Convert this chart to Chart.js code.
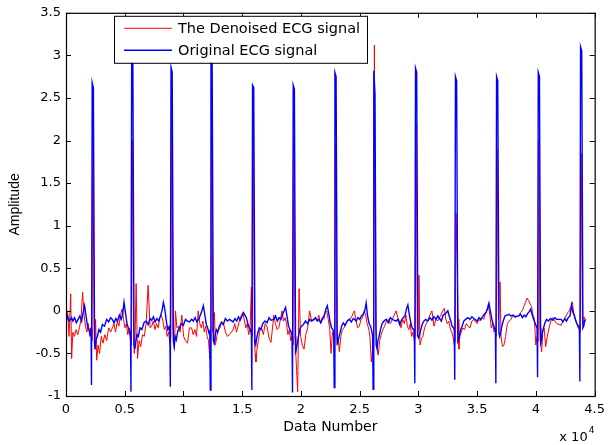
<!DOCTYPE html>
<html>
<head>
<meta charset="utf-8">
<script src="https://cdn.jsdelivr.net/npm/chart.js@4.4.0/dist/chart.umd.min.js"></script>
<style>
html, body { margin: 0; padding: 0; background: #fff; }
</style>
</head>
<body>
<canvas id="ecgChart" width="611" height="445"></canvas>
<script>
// R-peak sample numbers of the 13 beats
const PEAKS = [2280, 5640, 8990, 12390, 15930, 19390, 22940, 26250, 29800, 33200, 36700, 40250, 43850];

// samples before the first beat
const LEAD_X = [0, 130, 260, 400, 480];
const LEAD_BLUE = [-0.13, -0.06, -0.12, -0.1, -0.08];
const LEAD_RED = [-0.07, 0.0, -0.3, 0.2, -0.56];

// sample offsets (relative to each R peak) where the values below are read
const OFF_BLUE = [-1700, -1550, -1400, -1250, -1100, -950, -820, -700, -580, -450, -330, -220, -150, -110, -50, 50, 150, 220, 300, 400, 520, 660, 820, 1000, 1180, 1350, 1520];
const OFF_RED = [-1700, -1560, -1420, -1280, -1140, -1000, -870, -740, -620, -500, -380, -260, -150, -70, 0, 110, 170, 240, 330, 450, 580, 720, 870, 1020, 1180, 1350, 1520];

// Original ECG signal, one row per beat
const BLUE_BEATS = [
    [-0.12, -0.08, -0.14, -0.10, -0.06, -0.12, -0.02, 0.06, -0.05, -0.18, -0.22, -0.27, -0.2, -0.87, 2.68, 2.62, -0.38, -0.42, -0.33, -0.3, -0.22, -0.25, -0.16, -0.18, -0.1, -0.13, -0.08],
    [-0.1, -0.14, -0.09, -0.12, -0.05, -0.1, -0.04, 0.1, -0.02, -0.15, -0.2, -0.24, -0.3, -0.95, 2.95, 2.9, -0.4, -0.45, -0.36, -0.28, -0.3, -0.2, -0.22, -0.14, -0.12, -0.16, -0.09],
    [-0.11, -0.07, -0.13, -0.09, -0.12, -0.06, 0.0, 0.1, 0.02, -0.12, -0.22, -0.19, -0.28, -0.89, 2.86, 2.8, -0.35, -0.42, -0.3, -0.34, -0.24, -0.2, -0.15, -0.17, -0.1, -0.12, -0.13],
    [-0.1, -0.12, -0.08, -0.13, -0.1, -0.05, 0.0, 0.06, -0.04, -0.16, -0.2, -0.26, -0.24, -0.93, 2.95, 2.9, -0.34, -0.38, -0.3, -0.22, -0.25, -0.18, -0.14, -0.16, -0.09, -0.12, -0.1],
    [-0.13, -0.09, -0.12, -0.07, -0.11, -0.06, -0.02, -0.05, -0.08, -0.15, -0.2, -0.22, -0.28, -0.93, 2.65, 2.62, -0.37, -0.4, -0.32, -0.26, -0.2, -0.22, -0.15, -0.12, -0.14, -0.08, -0.11],
    [-0.1, -0.06, -0.12, -0.08, -0.1, -0.04, 0.0, 0.04, -0.06, -0.18, -0.22, -0.25, -0.3, -0.96, 2.65, 2.6, -0.48, -0.45, -0.38, -0.3, -0.21, -0.18, -0.16, -0.12, -0.15, -0.1, -0.12],
    [-0.08, -0.12, -0.1, -0.14, -0.09, -0.05, 0.02, 0.06, -0.03, -0.14, -0.2, -0.22, -0.26, -0.9, 2.8, 2.75, -0.38, -0.36, -0.3, -0.25, -0.18, -0.14, -0.17, -0.12, -0.1, -0.13, -0.09],
    [-0.1, -0.12, -0.08, -0.1, -0.06, -0.04, 0.0, 0.09, -0.06, -0.15, -0.18, -0.24, -0.3, -0.92, 2.82, 2.55, -0.4, -0.44, -0.35, -0.3, -0.22, -0.15, -0.12, -0.1, -0.14, -0.08, -0.1],
    [-0.12, -0.1, -0.16, -0.11, -0.08, -0.06, 0.02, 0.07, -0.04, -0.14, -0.2, -0.22, -0.25, -0.85, 2.85, 2.8, -0.3, -0.32, -0.28, -0.22, -0.16, -0.12, -0.1, -0.12, -0.08, -0.11, -0.07],
    [-0.1, -0.06, -0.09, -0.12, -0.05, -0.04, -0.02, 0.0, -0.06, -0.12, -0.18, -0.2, -0.22, -0.81, 2.75, 2.7, -0.36, -0.34, -0.28, -0.22, -0.18, -0.12, -0.1, -0.08, -0.1, -0.07, -0.09],
    [-0.12, -0.08, -0.1, -0.07, -0.04, -0.02, 0.03, 0.09, 0.0, -0.1, -0.16, -0.2, -0.24, -0.85, 2.75, 2.7, -0.26, -0.3, -0.25, -0.18, -0.12, -0.06, -0.05, -0.04, -0.06, -0.05, -0.07],
    [-0.06, -0.04, -0.08, -0.05, -0.07, -0.03, -0.01, 0.02, -0.04, -0.1, -0.14, -0.18, -0.2, -0.78, 2.8, 2.75, -0.38, -0.35, -0.25, -0.2, -0.14, -0.1, -0.12, -0.09, -0.11, -0.08, -0.1],
    [-0.1, -0.13, -0.09, -0.12, -0.08, -0.06, 0.07, -0.02, -0.05, -0.12, -0.16, -0.18, -0.2, -0.83, 3.1, 3.05, -0.2, -0.18, -0.12, -0.1]
];

// Denoised ECG signal, one row per beat
const RED_BEATS = [
    [-0.25, -0.3, -0.22, -0.28, -0.2, -0.1, 0.22, -0.05, -0.18, -0.25, -0.15, -0.3, -0.2, -0.35, 2.25, -0.1, -0.45, -0.1, -0.58, -0.4, -0.5, -0.3, -0.38, -0.28, -0.35, -0.2, -0.25],
    [-0.2, -0.15, -0.25, -0.12, -0.18, -0.05, 0.02, -0.1, -0.2, -0.15, -0.28, -0.2, -0.35, -0.4, 2.0, -0.2, -0.5, -0.3, 0.32, -0.56, -0.35, -0.42, -0.28, -0.3, -0.15, 0.3, -0.2],
    [-0.18, -0.12, -0.22, -0.15, -0.2, -0.08, -0.05, -0.12, -0.22, -0.18, -0.3, -0.25, -0.38, -0.3, 2.55, -0.2, -0.35, -0.45, 0.0, -0.2, -0.18, -0.25, -0.05, -0.3, -0.35, -0.38, -0.2],
    [-0.2, -0.28, -0.22, -0.3, 0.0, -0.15, -0.2, -0.12, -0.25, -0.18, -0.3, -0.35, -0.56, -0.4, 2.48, -0.25, -0.1, -0.02, -0.4, -0.3, -0.22, -0.2, -0.12, -0.15, -0.25, -0.3, -0.28],
    [-0.22, -0.15, -0.25, -0.18, -0.1, -0.05, -0.02, -0.12, -0.2, -0.15, -0.28, -0.2, 0.28, -0.3, 2.35, -0.35, -0.5, -0.6, -0.45, -0.35, -0.22, -0.2, -0.28, -0.15, -0.18, -0.32, -0.37],
    [-0.05, -0.15, -0.22, -0.2, -0.1, 0.0, -0.12, -0.08, -0.15, -0.28, -0.22, -0.35, -0.3, -0.4, 2.05, -0.3, -0.5, -0.7, -0.95, 0.26, -0.3, -0.4, -0.45, -0.28, -0.2, 0.0, -0.12],
    [-0.1, -0.12, -0.05, -0.15, -0.08, -0.1, -0.02, 0.0, -0.1, -0.2, -0.5, -0.25, -0.3, -0.35, 1.95, -0.3, -0.4, -0.35, -0.48, -0.3, -0.22, -0.2, -0.15, -0.12, -0.1, -0.08, -0.02],
    [0.0, -0.12, -0.2, -0.18, -0.1, -0.08, 0.0, -0.05, -0.15, -0.2, -0.3, -0.6, -0.45, -0.35, 3.12, -0.2, -0.3, -0.45, -0.52, -0.35, -0.28, -0.22, -0.18, -0.12, -0.1, -0.15, -0.1],
    [0.0, -0.08, -0.12, -0.2, -0.1, -0.15, -0.05, -0.18, -0.22, -0.15, -0.3, -0.25, -0.35, -0.3, 2.2, -0.3, -0.2, 0.42, -0.4, -0.33, -0.3, -0.2, -0.15, -0.1, -0.05, 0.0, -0.18],
    [-0.1, -0.12, -0.08, -0.05, 0.0, 0.03, -0.1, -0.15, -0.12, -0.2, -0.25, -0.3, -0.4, -0.35, 1.15, 0.5, -0.1, -0.45, -0.3, -0.25, -0.2, -0.22, -0.15, -0.18, -0.2, -0.12, -0.1],
    [-0.15, -0.1, -0.12, -0.08, -0.1, -0.03, 0.0, 0.05, -0.05, -0.2, -0.15, -0.25, -0.22, -0.3, 1.9, -0.1, 0.1, 0.34, -0.3, -0.42, -0.4, -0.3, -0.15, -0.12, -0.1, -0.05, -0.08],
    [-0.05, -0.02, 0.0, 0.05, 0.1, 0.15, 0.12, 0.08, 0.05, -0.05, -0.1, -0.4, -0.3, -0.35, 2.0, -0.2, -0.4, -0.48, -0.25, -0.2, -0.42, -0.3, -0.2, -0.12, -0.08, -0.12, -0.15],
    [-0.17, -0.12, -0.1, -0.06, -0.02, 0.0, 0.05, 0.1, -0.05, -0.1, -0.15, -0.2, -0.22, -0.25, 1.85, -0.1, -0.15, -0.07, -0.1]
];

const X_TICKS = [0, 0.5, 1, 1.5, 2, 2.5, 3, 3.5, 4, 4.5];   // x 10^4
const Y_TICKS = [-1, -0.5, 0, 0.5, 1, 1.5, 2, 2.5, 3, 3.5];

function buildSeries(leadY, offsets, rows) {
    const pts = LEAD_X.map((x, i) => ({ x: x, y: leadY[i] }));
    rows.forEach((row, b) => {
        row.forEach((y, i) => pts.push({ x: PEAKS[b] + offsets[i], y: y }));
    });
    return pts;
}

const FONT = '"DejaVu Sans", sans-serif';

// box, inward ticks, legend and axis texts in MATLAB style
const matlabFrame = {
    id: 'matlabFrame',
    afterDraw(chart) {
        const ctx = chart.ctx;
        const a = chart.chartArea;
        const xs = chart.scales.x;
        const ys = chart.scales.y;
        ctx.save();
        ctx.strokeStyle = '#000';
        ctx.lineWidth = 1.2;
        ctx.strokeRect(a.left + 0.5, a.top + 0.5, a.right - a.left, a.bottom - a.top);

        ctx.lineWidth = 1;
        ctx.beginPath();
        X_TICKS.forEach(t => {
            const px = Math.round(xs.getPixelForValue(t * 10000)) + 0.5;
            ctx.moveTo(px, a.bottom); ctx.lineTo(px, a.bottom - 5);
            ctx.moveTo(px, a.top); ctx.lineTo(px, a.top + 5);
        });
        Y_TICKS.forEach(t => {
            const py = Math.round(ys.getPixelForValue(t)) + 0.5;
            ctx.moveTo(a.left, py); ctx.lineTo(a.left + 5, py);
            ctx.moveTo(a.right, py); ctx.lineTo(a.right - 5, py);
        });
        ctx.stroke();

        // legend
        const lx = a.left + 48, ly = a.top + 3, lw = 253, lh = 47;
        ctx.fillStyle = '#fff';
        ctx.fillRect(lx, ly, lw, lh);
        ctx.strokeRect(lx + 0.5, ly + 0.5, lw, lh);
        ctx.font = '14.5px ' + FONT;
        ctx.textAlign = 'left';
        ctx.textBaseline = 'middle';
        [1, 0].forEach((di, row) => {
            const ds = chart.data.datasets[di];
            const yy = ly + 12.5 + row * 22;
            ctx.strokeStyle = ds.borderColor;
            ctx.lineWidth = ds.borderWidth;
            ctx.beginPath();
            ctx.moveTo(lx + 10, yy); ctx.lineTo(lx + 58, yy);
            ctx.stroke();
            ctx.fillStyle = '#000';
            ctx.fillText(ds.label, lx + 64, yy + 0.5);
        });

        // axis labels
        ctx.fillStyle = '#000';
        ctx.font = '14px ' + FONT;
        ctx.textAlign = 'center';
        ctx.textBaseline = 'middle';
        ctx.fillText('Data Number', (a.left + a.right) / 2, 427);

        ctx.font = '14px "Liberation Sans", sans-serif';
        ctx.translate(15, (a.top + a.bottom) / 2);
        ctx.rotate(-Math.PI / 2);
        ctx.fillText('Amplitude', 0, 0);
        ctx.setTransform(1, 0, 0, 1, 0, 0);

        ctx.font = '13px ' + FONT;
        ctx.textAlign = 'right';
        ctx.textBaseline = 'alphabetic';
        ctx.fillText('x 10', a.right - 7, 441);
        ctx.font = '9px ' + FONT;
        ctx.textAlign = 'left';
        ctx.fillText('4', a.right - 6, 433);
        ctx.restore();
    }
};

const ctx = document.getElementById('ecgChart').getContext('2d');
new Chart(ctx, {
    type: 'line',
    data: {
        datasets: [
            {
                label: 'Original ECG signal',
                data: buildSeries(LEAD_BLUE, OFF_BLUE, BLUE_BEATS),
                borderColor: '#0000ff',
                borderWidth: 1.4,
                pointRadius: 0,
                tension: 0
            },
            {
                label: 'The Denoised ECG signal',
                data: buildSeries(LEAD_RED, OFF_RED, RED_BEATS),
                borderColor: '#ff0000',
                borderWidth: 1,
                pointRadius: 0,
                tension: 0
            }
        ]
    },
    options: {
        responsive: false,
        animation: false,
        layout: { padding: { top: 12, right: 13, left: 0, bottom: 0 } },
        plugins: {
            legend: { display: false },
            tooltip: { enabled: false }
        },
        scales: {
            x: {
                type: 'linear',
                min: 0,
                max: 45000,
                afterFit: scale => { scale.height = 49; },
                afterBuildTicks: scale => { scale.ticks = X_TICKS.map(v => ({ value: v * 10000 })); },
                ticks: {
                    color: '#000',
                    font: { family: 'DejaVu Sans', size: 13 },
                    padding: 6,
                    maxRotation: 0,
                    autoSkip: false,
                    callback: v => String(v / 10000)
                },
                grid: { display: false, drawTicks: false },
                border: { display: false }
            },
            y: {
                min: -1,
                max: 3.5,
                afterFit: scale => { scale.width = 66; },
                afterBuildTicks: scale => { scale.ticks = Y_TICKS.map(v => ({ value: v })); },
                ticks: {
                    color: '#000',
                    font: { family: 'DejaVu Sans', size: 13 },
                    padding: 5,
                    autoSkip: false,
                    callback: v => String(v)
                },
                grid: { display: false, drawTicks: false },
                border: { display: false }
            }
        }
    },
    plugins: [matlabFrame]
});
</script>
</body>
</html>
